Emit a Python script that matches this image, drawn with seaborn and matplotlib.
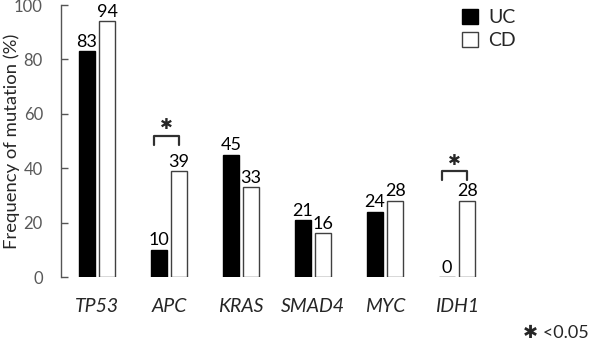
import pandas as pd
import matplotlib.pyplot as plt
import seaborn as sns

# ── DATA ─────────────────────────────────────────────────────
genes = ['TP53', 'APC', 'KRAS', 'SMAD4', 'MYC', 'IDH1']
uc_vals = [83, 10, 45, 21, 24, 0]
cd_vals = [94, 39, 33, 16, 28, 28]
groups = ['UC', 'CD']
sig_genes = ['APC', 'IDH1']
sig_heights = [52, 39]

df = pd.DataFrame({
    'gene': genes * 2,
    'group': ['UC'] * len(genes) + ['CD'] * len(genes),
    'value': uc_vals + cd_vals,
})

# ── SETUP ────────────────────────────────────────────────────
sns.set_theme(style='white')
plt.rcParams['font.family'] = ['Lato', 'DejaVu Sans']

fig = plt.figure(figsize=(5.96, 3.46), dpi=100)
ax = fig.add_axes([0.1023, 0.1994, 0.7853, 0.7861])

sns.barplot(data=df, x='gene', y='value', hue='group', order=genes,
            hue_order=groups, palette={'UC': 'black', 'CD': 'white'},
            width=0.56, gap=0.2, ax=ax, legend=True)

edge = {'UC': 'black', 'CD': '#404040'}
for patch, grp in zip(ax.patches, ['UC'] * len(genes) + ['CD'] * len(genes)):
    patch.set_edgecolor(edge[grp])
    patch.set_linewidth(1.0)

for cont in ax.containers:
    ax.bar_label(cont, fmt='%d', padding=1, fontsize=13, color='black')

# significance brackets
off = 0.139
for g, h in zip(sig_genes, sig_heights):
    i = genes.index(g)
    x0, x1 = i - off - 0.07, i + off
    ax.plot([x0, x0, x1, x1], [h - 3.5, h, h, h - 3.5], color='#303030', lw=1.6)
    ax.text((x0 + x1) / 2, h + 1.2, '\u2731', ha='center', va='bottom',
            fontsize=11, family='DejaVu Sans')

ax.set_ylim(0, 100)
ax.set_xlim(-0.5, 6.0)
ax.set_yticks(range(0, 101, 20))
ax.tick_params(axis='y', left=True, direction='in', length=5, width=1,
               color='#555555', labelsize=12, labelcolor='#595959', pad=13)
ax.tick_params(axis='x', bottom=False, labelsize=14, pad=9)
for lbl in ax.get_xticklabels():
    lbl.set_fontstyle('italic')
ax.set_xlabel('')
ax.set_ylabel('Frequency of mutation (%)', fontsize=13.3)
ax.yaxis.set_label_coords(-0.088, 0.5)
for s in ['top', 'right', 'bottom']:
    ax.spines[s].set_visible(False)
ax.spines['left'].set_color('#555555')
ax.spines['left'].set_linewidth(1.0)

handles, labels = ax.get_legend_handles_labels()
leg = ax.legend(handles, labels, loc='upper left',
                bbox_to_anchor=(0.775, 0.975), bbox_transform=fig.transFigure,
                frameon=False, fontsize=14, handlelength=0.85, handleheight=0.85,
                handletextpad=0.5, labelspacing=0.3, borderpad=0, borderaxespad=0)
for hnd, lab in zip(leg.legend_handles, labels):
    hnd.set_edgecolor(edge[lab])
    hnd.set_linewidth(1.0)

fig.text(0.988, 0.015, '\u2731 <0.05', ha='right', va='bottom', fontsize=13)

plt.savefig('out.png', dpi=100)
